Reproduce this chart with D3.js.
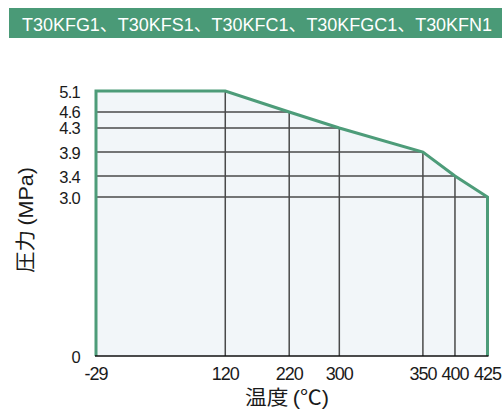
<!DOCTYPE html>
<html><head><meta charset="utf-8">
<script src="https://cdn.jsdelivr.net/npm/d3@7"></script>
<style>body{margin:0;background:#fff}svg{display:block}</style>
</head><body>
<svg id="c" width="502" height="410"></svg>
<script>
const title = "T30KFG1、T30KFS1、T30KFC1、T30KFGC1、T30KFN1";
const temps = [-29, 120, 220, 300, 350, 400, 425];
const pressures = [5.1, 5.1, 4.6, 4.3, 3.9, 3.4, 3.0];
const xTickLabels = ["-29", "120", "220", "300", "350", "400", "425"];
const yTicks = [0, 3.0, 3.4, 3.9, 4.3, 4.6, 5.1];
const yTickLabels = ["0", "3.0", "3.4", "3.9", "4.3", "4.6", "5.1"];
const xTitle = ["温度", "(℃)"];
const yTitle = ["圧力", "(MPa)"];

const svg = d3.select("#c");
const green = "#4d9c79";
const L = 96, R = 487.5, T = 91, B = 356;
// non-uniform axis spacing as in the original drawing (fractions of plot extent)
const xFrac = [0, 0.3302, 0.4935, 0.6215, 0.8350, 0.9169, 1];
const yFrac = [0, 0.6, 0.6792, 0.7698, 0.8604, 0.9208, 1];
const x = d3.scaleLinear().domain(temps).range(xFrac.map(f => L + f * (R - L)));
const y = d3.scaleLinear().domain(yTicks).range(yFrac.map(f => B - f * (B - T)));

// title bar
svg.append("rect").attr("x", 9).attr("y", 8).attr("width", 493).attr("height", 30).attr("fill", "#4a9a77");
svg.append("text").attr("x", 22).attr("y", 30.5).attr("fill", "#fff")
  .attr("font-family", "Liberation Sans, Arial, 'Noto Sans CJK JP', sans-serif")
  .attr("font-size", 17.5).attr("textLength", 470).attr("lengthAdjust", "spacingAndGlyphs")
  .text(title);

const pts = temps.map((t, i) => [t, pressures[i]]);
const area = [[temps[0], 0], ...pts, [temps[temps.length - 1], 0]];
const line = d3.line().x(d => x(d[0])).y(d => y(d[1]));

svg.append("clipPath").attr("id", "clip").append("path").attr("d", line(area) + "Z");
svg.append("path").attr("d", line(area) + "Z").attr("fill", "#f2f6f9");

const g = svg.append("g").attr("clip-path", "url(#clip)");
g.selectAll("line.h").data(yTicks.slice(1)).join("line")
  .attr("x1", L).attr("x2", R).attr("y1", d => y(d)).attr("y2", d => y(d))
  .attr("stroke", "#4a4a4a").attr("stroke-width", 1.5);
g.selectAll("line.v").data(temps.slice(1, -1)).join("line")
  .attr("x1", d => x(d)).attr("x2", d => x(d)).attr("y1", T).attr("y2", B)
  .attr("stroke", "#4a4a4a").attr("stroke-width", 1.5);

svg.append("path").attr("d", line(area)).attr("fill", "none")
  .attr("stroke", green).attr("stroke-width", 3).attr("stroke-linejoin", "miter");
svg.append("line").attr("x1", L - 1).attr("x2", R + 1).attr("y1", B).attr("y2", B)
  .attr("stroke", "#111").attr("stroke-width", 1.5);

const font = "Liberation Sans, Arial, sans-serif";
svg.selectAll("text.xt").data(temps).join("text")
  .attr("x", d => x(d)).attr("y", 380).attr("text-anchor", "middle")
  .attr("font-family", font).attr("font-size", 18).attr("letter-spacing", -1).attr("fill", "#1a1a1a")
  .text((d, i) => xTickLabels[i]);
svg.selectAll("text.yt").data(yTicks).join("text")
  .attr("x", 80).attr("y", d => y(d) + 6.5).attr("text-anchor", "end")
  .attr("font-family", font).attr("font-size", 16.5).attr("letter-spacing", -0.7).attr("fill", "#1a1a1a")
  .text((d, i) => yTickLabels[i]);

function axisTitle(sel, parts, len) {
  sel.attr("font-size", 20).attr("fill", "#1a1a1a").attr("text-anchor", "middle")
    .attr("font-family", "'Noto Sans CJK JP', sans-serif")
    .attr("textLength", len).attr("lengthAdjust", "spacingAndGlyphs");
  sel.append("tspan").text(parts[0]);
  sel.append("tspan").attr("dx", 4).attr("font-family", "Liberation Sans, Arial, 'Noto Sans CJK JP', sans-serif").text(parts[1]);
}
axisTitle(svg.append("text").attr("x", 287).attr("y", 405), xTitle, 84);
axisTitle(svg.append("text").attr("transform", "translate(33,220) rotate(-90)"), yTitle, 106);
</script>
</body></html>
